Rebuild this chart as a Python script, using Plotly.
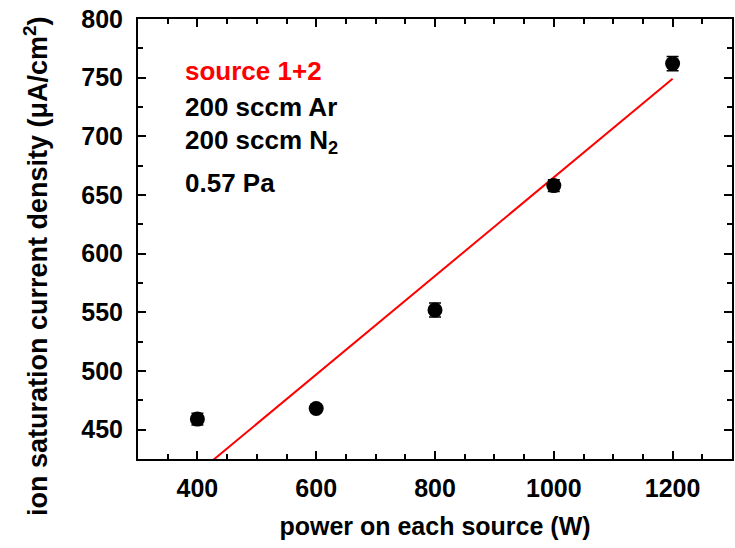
import plotly.graph_objects as go

# Data
power = [400, 600, 800, 1000, 1200]
current_density = [459, 468, 552, 658, 762]
errors = [5, 3, 6, 5, 6]

fit_x = [400, 1200]
fit_y = [413, 749]

x_ticks = [400, 600, 800, 1000, 1200]
y_ticks = [450, 500, 550, 600, 650, 700, 750, 800]

FONT = "Liberation Sans, Arial, Helvetica, sans-serif"

fig = go.Figure()

fig.add_trace(go.Scatter(
    x=fit_x, y=fit_y, mode="lines",
    line=dict(color="#ff0000", width=2),
    showlegend=False, hoverinfo="skip",
))

fig.add_trace(go.Scatter(
    x=power, y=current_density, mode="markers",
    marker=dict(color="black", size=15, symbol="circle"),
    error_y=dict(type="data", array=errors, color="black", thickness=1.5, width=6),
    showlegend=False, cliponaxis=False,
))

ann_font = dict(family=FONT, size=26, color="black", weight="bold")
labels = [
    ("source 1+2", 756, "#ff0000"),
    ("200 sccm Ar", 725, "black"),
    ("200 sccm N<sub>2</sub>", 696, "black"),
    ("0.57 Pa", 660, "black"),
]
for txt, yy, col in labels:
    f = dict(ann_font)
    f["color"] = col
    fig.add_annotation(x=376, y=yy, xref="x", yref="y", text=txt,
                       showarrow=False, xanchor="left", yanchor="middle", font=f)

# y-axis title (placed as annotation so it can sit off-centre like the reference)
fig.add_annotation(
    x=-0.172, y=0.438, xref="paper", yref="paper",
    text="ion saturation current density (μA/cm<sup>2</sup>)",
    textangle=-90, showarrow=False, xanchor="center", yanchor="middle",
    font=dict(family=FONT, size=27, color="black", weight="bold"),
)

axis_common = dict(
    showline=True, linecolor="black", linewidth=2, mirror="ticks",
    ticks="inside", ticklen=8, tickwidth=1.5, tickcolor="black",
    showgrid=False, zeroline=False,
    tickfont=dict(family=FONT, size=25, color="black", weight="bold"),
)

fig.update_xaxes(
    range=[300, 1300], tickvals=x_ticks, ticktext=[str(v) for v in x_ticks],
    minor=dict(dtick=50, tick0=300, ticks="inside", ticklen=5, tickwidth=1.5, tickcolor="black"),
    title=dict(text="power on each source (W)", standoff=16,
               font=dict(family=FONT, size=25, color="black", weight="bold")),
    ticklabelstandoff=6,
    **axis_common,
)
fig.update_yaxes(
    range=[425, 800], tickvals=y_ticks, ticktext=[str(v) for v in y_ticks],
    minor=dict(dtick=25, tick0=425, ticks="inside", ticklen=5, tickwidth=1.5, tickcolor="black"),
    ticklabelstandoff=8,
    **axis_common,
)

fig.update_layout(
    width=735, height=548,
    margin=dict(l=138, r=1, t=19, b=89),
    paper_bgcolor="white", plot_bgcolor="white",
    font=dict(family=FONT, color="black", weight="bold"),
)

fig.write_html("out.html")
